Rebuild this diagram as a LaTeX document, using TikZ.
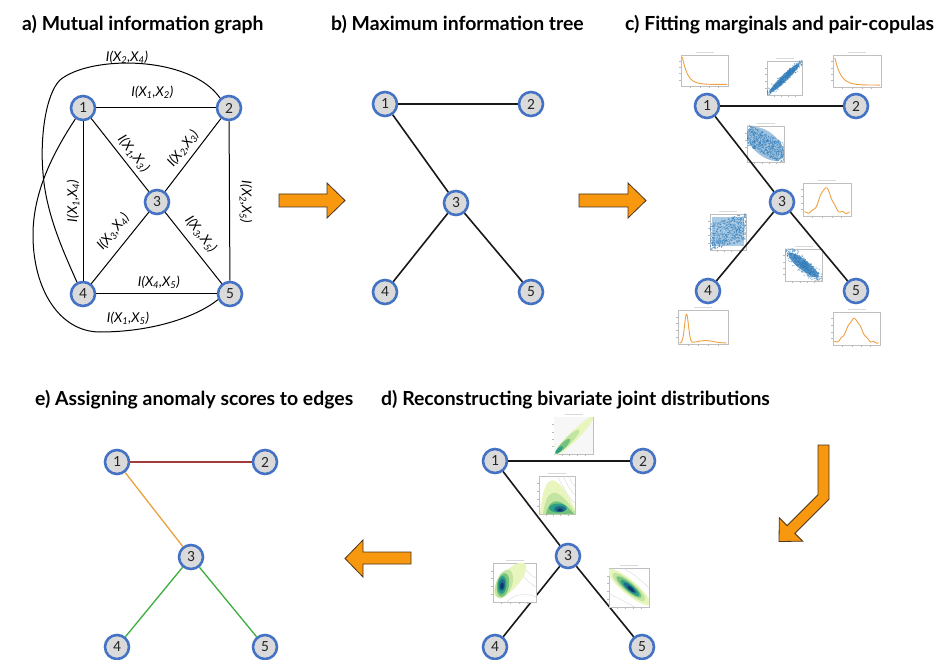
\documentclass[tikz,border=0pt]{standalone}
\usepackage{fontspec}
\setmainfont{Lato}
\newfontfamily\digitfont{Carlito}
\usetikzlibrary{calc}

\definecolor{ringblue}{HTML}{4472C4}
\definecolor{nodegrey}{HTML}{DADADA}
\definecolor{arroworange}{HTML}{F7980F}
\definecolor{arrowedge}{HTML}{4A3520}
\definecolor{plotorange}{HTML}{F0A044}
\definecolor{scatblue}{HTML}{2F7CBA}
\definecolor{edgered}{HTML}{A33B3B}
\definecolor{edgeorange}{HTML}{E9A23C}
\definecolor{edgegreen}{HTML}{3DAE3D}
\definecolor{dgA}{HTML}{E8F5BC}
\definecolor{dgB}{HTML}{C3E5A2}
\definecolor{dgC}{HTML}{74C27C}
\definecolor{dgD}{HTML}{2E9E85}
\definecolor{dgE}{HTML}{1D6C8C}
\definecolor{dgF}{HTML}{0D3A6A}

% mutual information label I(X_i,X_j)
\newcommand\MI[2]{I(X\textsubscript{#1},X\textsubscript{#2})}

% axes frame of a small plot with tick marks
\newcommand\plotaxes[4]{%
  \draw[axbox] (#1,#2) rectangle (#3,#4);
  \foreach \t in {0.2,0.4,0.6,0.8}{%
    \draw[tickline] ({#1+\t*(#3-#1)},#4) -- ++(0,1.6);
    \draw[tickline] (#1,{#4-\t*(#4-#2)}) -- ++(-1.6,0);
  }%
  \fill[gray!30] ({(#1+#3)/2-9},{#2-2.6}) rectangle ++(18,0.9);
}

% scatter cloud: #1 seed, #2 number of points, #3 x-expression, #4 y-expression
\newcommand\scattercloud[4]{%
  \pgfmathsetseed{#1}%
  \foreach \k in {1,...,#2}{%
    \pgfmathsetmacro\ga{(rand+rand+rand)/3}%
    \pgfmathsetmacro\gb{(rand+rand+rand)/3}%
    \pgfmathsetmacro\ua{rand}%
    \pgfmathsetmacro\ub{rand}%
    \pgfmathsetmacro\px{#3}%
    \pgfmathsetmacro\py{#4}%
    \fill[scatblue, opacity=0.6] (\px,\py) circle (0.6pt);
  }%
}

\tikzset{
  vnode/.style={circle, draw=ringblue, line width=2.6pt, fill=nodegrey,
    minimum size=24pt, inner sep=0pt, text=black!85,
    font=\digitfont\fontsize{15.5}{15.5}\selectfont},
  medge/.style={line width=1pt, black},
  tedge/.style={line width=1.6pt, black!90},
  cedge/.style={line width=1.3pt},
  milabel/.style={font=\fontsize{13.5}{13.5}\selectfont\itshape, inner xsep=0pt},
  title/.style={font=\fontsize{19.4}{19.4}\selectfont\bfseries, anchor=base west, inner sep=0pt},
  fatarrow/.style={fill=arroworange, draw=arrowedge, line width=0.8pt, line join=miter},
  axbox/.style={draw=gray!50, line width=0.35pt, fill=white},
  tickline/.style={draw=gray!55, line width=0.3pt},
  margcurve/.style={draw=plotorange, line width=0.9pt, line join=round},
  contour/.style={draw=gray!35, line width=0.3pt},
  cloud/.style={fill=scatblue, opacity=0.75},
}

\begin{document}
\begin{tikzpicture}[x=1pt, y=-1pt]
\useasboundingbox (0,0) rectangle (937,660);
\fill[white] (0,0) rectangle (937,660);

% ---------- titles ----------
\node[title] (ta) at (22,31) {a) Mutual information graph};
\node[title] (tb) at (331,31) {b) Maximum information tree};
\node[title] (tc) at (625,31) {c) Fitting marginals and pair-copulas};
\node[title] (te) at (35,405) {e) Assigning anomaly scores to edges};
\node[title] (td) at (381,405) {d) Reconstructing bivariate joint distributions};

% ---------- a) mutual information graph ----------
\node[vnode] (a1) at (83,108) {1};
\node[vnode] (a2) at (229,108) {2};
\node[vnode] (a3) at (157,202) {3};
\node[vnode] (a4) at (83,294) {4};
\node[vnode] (a5) at (230,294) {5};

\coordinate (k1) at (60,80);
\coordinate (k2) at (43,173);
\coordinate (k3) at (33,235);
\coordinate (k4) at (100,332);

\draw[medge] (a2.132) .. controls (190,55) and (90,55) .. (k1)
  .. controls (45,95) and (40,140) .. (k2)
  .. controls (46,215) and (65,255) .. (a4.117);
\draw[medge] (a1.235) .. controls (55,150) and (33,190) .. (k3)
  .. controls (33,290) and (60,332) .. (k4)
  .. controls (150,332) and (195,318) .. (a5.205);

\draw[medge] (a1) -- node[milabel, sloped, above, pos=0.47, inner ysep=8.5pt] (l12) {\MI12} (a2);
\draw[medge] (a1) -- node[milabel, sloped, above, pos=0.58, inner ysep=4.5pt] (l13) {\MI13} (a3);
\draw[medge] (a3) -- node[milabel, sloped, above, pos=0.49, inner ysep=5pt] (l23) {\MI23} (a2);
\draw[medge] (a4) -- node[milabel, sloped, above, pos=0.59, inner ysep=8.5pt] (l34) {\MI34} (a3);
\draw[medge] (a3) -- node[milabel, sloped, above, pos=0.43, inner ysep=7.5pt] (l35) {\MI35} (a5);
\draw[medge] (a4) -- node[milabel, above, pos=0.52, inner ysep=5pt] (l45) {\MI45} (a5);
\draw[medge] (a1) -- (a4);
\draw[medge] (a2) -- (a5);
\node[milabel, rotate=90] (l14) at (73,201) {\MI14};
\node[milabel, rotate=-90] (l25) at (246,202) {\MI25};
\node[milabel] (l24) at (127,57) {\MI24};
\node[milabel] (l15) at (128,318) {\MI15};

% ---------- b) maximum information tree ----------
\node[vnode] (b1) at (385,104) {1};
\node[vnode] (b2) at (531,104) {2};
\node[vnode] (b3) at (456,203) {3};
\node[vnode] (b4) at (385,292) {4};
\node[vnode] (b5) at (531,292) {5};
\draw[tedge] (b1) -- (b2);
\draw[tedge] (b1) -- (b3);
\draw[tedge] (b3) -- (b4);
\draw[tedge] (b3) -- (b5);

% ---------- c) marginals and pair-copulas ----------
\coordinate (c1p) at (707,106);
\coordinate (c2p) at (856,106);
\coordinate (c3p) at (782,202);
\coordinate (c4p) at (708,291);
\coordinate (c5p) at (856,291);

% marginal densities
\plotaxes{681}{55}{728}{86}
\begin{scope}[shift={(681,86)}, x=47pt, y=31pt]
  \draw[margcurve] plot[domain=0.03:0.98, samples=60] (\x,{0.05+0.88*exp(-9*(\x-0.03))});
\end{scope}
\plotaxes{833}{55}{881}{87}
\begin{scope}[shift={(833,87)}, x=48pt, y=32pt]
  \draw[margcurve] plot[domain=0.04:0.98, samples=60] (\x,{0.06+0.85*exp(-8*(\x-0.04))});
\end{scope}
\plotaxes{803}{183}{851}{216}
\begin{scope}[shift={(803,216)}, x=48pt, y=33pt]
  \draw[margcurve] plot[domain=0.03:0.97, samples=70] (\x,{0.1+0.75*exp(-((\x-0.47)/0.17)^2)+0.025*sin(\x*2300)});
\end{scope}
\plotaxes{678}{310}{728}{344}
\begin{scope}[shift={(678,344)}, x=50pt, y=34pt]
  \draw[margcurve] plot[domain=0.03:0.97, samples=80] (\x,{0.03+0.85*exp(-((\x-0.17)/0.055)^2)+0.07*exp(-((\x-0.55)/0.22)^2)});
\end{scope}
\plotaxes{833}{312}{880}{345}
\begin{scope}[shift={(833,345)}, x=47pt, y=33pt]
  \draw[margcurve] plot[domain=0.03:0.97, samples=70] (\x,{0.07+0.72*exp(-((\x-0.45)/0.21)^2)+0.02*sin(\x*2600)});
\end{scope}

% pair-copula scatter plots: dense core plus scattered points
\plotaxes{767}{61}{802}{95}
\begin{scope}[shift={(767,95)}, x=35pt, y=34pt]
  \clip (0,0) rectangle (1,1);
  \fill[cloud, rotate around={44:(0.5,0.5)}] (0.5,0.5) ellipse [x radius=21pt, y radius=3.2pt];
  \scattercloud{5}{500}{0.5+0.9*\ga}{0.5+0.9*(0.97*\ga+0.22*\gb)}
\end{scope}
\plotaxes{747}{126}{784}{162}
\begin{scope}[shift={(747,162)}, x=37pt, y=36pt]
  \clip (0,0) rectangle (1,1);
  \fill[cloud, opacity=0.45, rotate around={-40:(0.5,0.5)}] (0.5,0.5) ellipse [x radius=22pt, y radius=12pt];
  \scattercloud{7}{650}{0.5+0.5*\ua}{0.5+0.5*(-0.55*\ua+0.6*\ub)}
\end{scope}
\plotaxes{710}{214}{746}{250}
\begin{scope}[shift={(710,250)}, x=36pt, y=36pt]
  \clip (0,0) rectangle (1,1);
  \fill[cloud, opacity=0.4] (0.06,0.1) rectangle (0.94,0.92);
  \scattercloud{9}{600}{0.5+0.5*\ua}{0.5+0.5*(0.3*\ua+0.75*\ub)}
\end{scope}
\plotaxes{785}{249}{822}{281}
\begin{scope}[shift={(785,281)}, x=37pt, y=32pt]
  \clip (0,0) rectangle (1,1);
  \fill[cloud, rotate around={-38:(0.5,0.5)}] (0.5,0.5) ellipse [x radius=19pt, y radius=5pt];
  \scattercloud{11}{550}{0.5+0.9*\ga}{0.5+0.9*(-0.9*\ga+0.4*\gb)}
\end{scope}

\node[vnode] (c1) at (c1p) {1};
\node[vnode] (c2) at (c2p) {2};
\node[vnode] (c3) at (c3p) {3};
\node[vnode] (c4) at (c4p) {4};
\node[vnode] (c5) at (c5p) {5};
\draw[tedge] (c1) -- (c2);
\draw[tedge] (c1) -- (c3);
\draw[tedge] (c3) -- (c4);
\draw[tedge] (c3) -- (c5);

% ---------- d) bivariate joint densities ----------
\node[vnode] (d1) at (495,461) {1};
\node[vnode] (d2) at (643,461) {2};
\node[vnode] (d3) at (568,556) {3};
\node[vnode] (d4) at (495,647) {4};
\node[vnode] (d5) at (642,647) {5};
\draw[tedge] (d1) -- (d2);
\draw[tedge] (d1) -- (d3);
\draw[tedge] (d3) -- (d4);
\draw[tedge] (d3) -- (d5);

\plotaxes{554}{417}{593}{454}
\begin{scope}[shift={(554,417)}]
  \clip (0,0) rectangle (39,37);
  \fill[gray!6] (0,0) rectangle (39,37);
  \fill[dgA, rotate around={45:(20,19)}] (20,19) ellipse [x radius=27pt, y radius=4.5pt];
  \fill[dgB, rotate around={45:(14,24)}] (14,24) ellipse [x radius=16pt, y radius=3.5pt];
  \fill[dgC, rotate around={45:(9,29)}] (9,29) ellipse [x radius=10pt, y radius=2.8pt];
  \fill[dgD, rotate around={45:(5,33)}] (5,33) ellipse [x radius=5pt, y radius=2pt];
\end{scope}

\plotaxes{539}{476}{575}{514}
\begin{scope}[shift={(539,476)}]
  \clip (0,0) rectangle (36,38);
  \draw[contour] (18,0) .. controls (26,14) and (31,24) .. (36,27);
  \draw[contour] (24,0) .. controls (29,10) and (33,17) .. (36,19);
  \draw[contour] (30,0) .. controls (32,6) and (34,9) .. (36,10);
  \fill[dgA] (1,38) .. controls (5,-6) and (17,-6) .. (36,33) -- (36,38) -- cycle;
  \fill[dgB] (4,38) .. controls (8,10) and (18,10) .. (36,36) -- (36,38) -- cycle;
  \fill[dgC] (7,38) .. controls (11,20) and (22,22) .. (35,38) -- cycle;
  \fill[dgD] (19,32) ellipse [x radius=9pt, y radius=4.5pt];
  \fill[dgE] (21,33) ellipse [x radius=6pt, y radius=3pt];
  \fill[dgF] (21,34) ellipse [x radius=3pt, y radius=1.6pt];
\end{scope}

\plotaxes{493}{563}{536}{602}
\begin{scope}[shift={(493,563)}]
  \clip (0,0) rectangle (43,39);
  \draw[contour] (20,0) .. controls (28,12) and (36,20) .. (43,24);
  \draw[contour] (28,0) .. controls (33,8) and (38,13) .. (43,15);
  \draw[contour] (14,39) .. controls (22,30) and (34,30) .. (43,34);
  \fill[dgA, rotate around={48:(17,17)}] (17,17) ellipse [x radius=22pt, y radius=9pt];
  \fill[dgB, rotate around={70:(11,21)}] (11,21) ellipse [x radius=15pt, y radius=8pt];
  \fill[dgC, rotate around={80:(10,22)}] (10,22) ellipse [x radius=12pt, y radius=6pt];
  \fill[dgD, rotate around={85:(9,22)}] (9,22) ellipse [x radius=9pt, y radius=4.5pt];
  \fill[dgE, rotate around={85:(9,22)}] (9,22) ellipse [x radius=6.5pt, y radius=3pt];
  \fill[dgF, rotate around={85:(9,23)}] (9,23) ellipse [x radius=3.5pt, y radius=1.8pt];
\end{scope}

\plotaxes{609}{568}{649}{607}
\begin{scope}[shift={(609,568)}]
  \clip (0,0) rectangle (40,39);
  \draw[contour] (0,26) .. controls (10,30) and (20,36) .. (26,39);
  \draw[contour] (14,0) .. controls (22,4) and (32,12) .. (40,20);
  \fill[dgA, rotate around={-40:(20,19)}] (20,19) ellipse [x radius=27pt, y radius=7pt];
  \fill[dgB, rotate around={-40:(20,19)}] (20,19) ellipse [x radius=21pt, y radius=5.5pt];
  \fill[dgC, rotate around={-40:(20,19)}] (20,19) ellipse [x radius=16pt, y radius=4.2pt];
  \fill[dgD, rotate around={-40:(21,20)}] (21,20) ellipse [x radius=12pt, y radius=3.2pt];
  \fill[dgE, rotate around={-40:(21,20)}] (21,20) ellipse [x radius=8pt, y radius=2.3pt];
  \fill[dgF, rotate around={-40:(22,21)}] (22,21) ellipse [x radius=4.5pt, y radius=1.5pt];
\end{scope}

% ---------- e) anomaly scores on edges ----------
\node[vnode] (e1) at (117,462) {1};
\node[vnode] (e2) at (265,462) {2};
\node[vnode] (e3) at (191,557) {3};
\node[vnode] (e4) at (117,647) {4};
\node[vnode] (e5) at (265,647) {5};
\draw[cedge, edgered] (e1) -- (e2);
\draw[cedge, edgeorange] (e1) -- (e3);
\draw[cedge, edgegreen] (e3) -- (e4);
\draw[cedge, edgegreen] (e3) -- (e5);

% ---------- block arrows between the stages ----------
\draw[fatarrow] (279,194) -- (327,194) -- (327,183) -- (345,200.5) -- (327,218) -- (327,207) -- (279,207) -- cycle;
\draw[fatarrow] (579,194) -- (628,194) -- (628,183) -- (646,200.5) -- (628,218) -- (628,207) -- (579,207) -- cycle;
\draw[fatarrow] (818,445) -- (829,445) -- (829,499.3) -- (794.9,533.4) -- (802.7,541.2)
  -- (779,541.5) -- (779.3,517.8) -- (787.1,525.6) -- (818,494.7) -- cycle;
\draw[fatarrow] (411,552) -- (363,552) -- (363,540) -- (345,558.5) -- (363,577) -- (363,564) -- (411,564) -- cycle;
\end{tikzpicture}
\end{document}
